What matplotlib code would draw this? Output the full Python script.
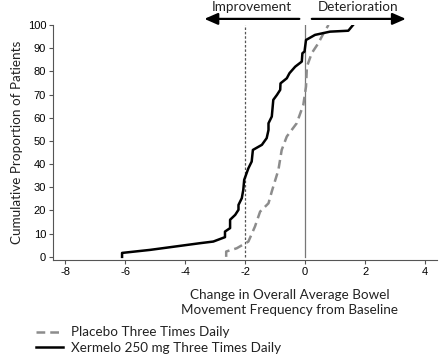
import numpy as np
import matplotlib.pyplot as plt

# cumulative distribution curves
xermelo_x = [-6.1, -6.1, -5.17, -3.5, -3.06, -2.67, -2.67, -2.5, -2.5, -2.33, -2.22, -2.22,
             -2.11, -2.06, -2.03, -1.89, -1.78, -1.74, -1.44, -1.28, -1.22, -1.22, -1.11,
             -1.06, -0.94, -0.83, -0.82, -0.61, -0.52, -0.33, -0.11, -0.09, -0.02, 0.03,
             0.33, 0.83, 1.44, 1.6]
xermelo_y = [0, 1.7, 3.0, 5.9, 6.6, 8.5, 10.9, 12.4, 16, 18.1, 20.3, 22.4,
             25.3, 28.9, 33.2, 38.2, 41.1, 46.1, 48.3, 51.2, 54.7, 57.6, 60.5,
             67.7, 69.8, 72, 74.8, 77, 79.2, 82, 84.2, 87.8, 88.5, 93.5,
             95.7, 97.1, 97.5, 100]

placebo_x = [-2.63, -2.63, -2.28, -1.89, -1.67, -1.5, -1.22, -1.11, -0.89, -0.78, -0.61,
             -0.28, -0.06, 0.03, 0.06, 0.22, 0.44, 0.61, 0.78]
placebo_y = [0, 2.3, 3.7, 6.6, 13.1, 19.5, 23.1, 28.2, 37.5, 46.1, 51.9,
             57.6, 65.5, 73.4, 82, 87.8, 92.1, 96.3, 100]

x_ticks = [-8, -6, -4, -2, 0, 2, 4]
y_ticks = [0, 10, 20, 30, 40, 50, 60, 70, 80, 90, 100]

label_font = 'Lato'
tick_font = 'Liberation Sans'
text_size = 9.7

fig = plt.figure(figsize=(4.42, 3.56), dpi=100)
ax = fig.add_axes([0.12, 0.27, 0.869, 0.66])

# reference lines
ax.plot([-2, -2], [0, 100], color='#555555', lw=0.9, ls=(0, (2, 1.5)))
ax.plot([0, 0], [0, 100], color='#777777', lw=0.9)

# curves
ax.plot(placebo_x, placebo_y, color='#8c8c8c', lw=1.8, ls=(0, (3.5, 2)),
        label='Placebo Three Times Daily')
ax.plot(xermelo_x, xermelo_y, color='black', lw=1.8,
        label='Xermelo 250 mg Three Times Daily')

ax.set_xlim(-8.4, 4.4)
ax.set_ylim(-1.3, 100)
ax.set_xticks(x_ticks)
ax.set_yticks(y_ticks)
ax.set_xticklabels([str(t) for t in x_ticks], fontfamily=tick_font, fontsize=8)
ax.set_yticklabels([str(t) for t in y_ticks], fontfamily=tick_font, fontsize=8)
ax.tick_params(length=3, width=0.8, color='#555555', pad=2)

ax.spines['top'].set_visible(False)
ax.spines['right'].set_visible(False)
ax.spines['left'].set_color('#555555')
ax.spines['bottom'].set_color('#555555')

ax.set_ylabel('Cumulative Proportion of Patients', fontfamily=label_font, fontsize=text_size,
              color='#222222', labelpad=3)
fig.text(0.656, 0.15, 'Change in Overall Average Bowel\nMovement Frequency from Baseline',
         ha='center', va='center', fontfamily=label_font, fontsize=text_size,
         color='#222222', linespacing=1.3)

# direction arrows above the plot
ax.annotate('', xy=(-3.45, 102.6), xytext=(-0.1, 102.6), xycoords='data',
            arrowprops=dict(arrowstyle='-|>,head_length=0.8,head_width=0.35', color='black', lw=1.6),
            annotation_clip=False)
ax.annotate('', xy=(3.45, 102.6), xytext=(0.13, 102.6), xycoords='data',
            arrowprops=dict(arrowstyle='-|>,head_length=0.8,head_width=0.35', color='black', lw=1.6),
            annotation_clip=False)
ax.text(-1.77, 107.6, 'Improvement', ha='center', va='center', fontfamily=label_font,
        fontsize=text_size, color='#222222', clip_on=False)
ax.text(1.77, 107.6, 'Deterioration', ha='center', va='center', fontfamily=label_font,
        fontsize=text_size, color='#222222', clip_on=False)

fig.legend(loc='lower left', bbox_to_anchor=(0.06, -0.02), frameon=False,
           prop={'family': label_font, 'size': text_size}, handlelength=2.0, handletextpad=0.6,
           labelspacing=0.25, borderaxespad=0.3, labelcolor='#222222')

fig.savefig('out.png', dpi=100, facecolor='white')
